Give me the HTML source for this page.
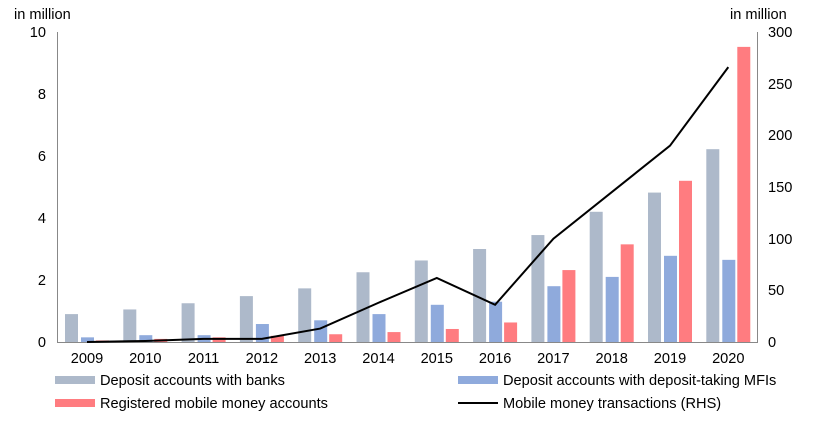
<!DOCTYPE html>
<html><head><style>body{margin:0;background:#fff}svg{display:block}text{font-family:"Liberation Sans",Arial,sans-serif;fill:#000}</style></head><body>
<svg width="821" height="421" viewBox="0 0 821 421" xmlns="http://www.w3.org/2000/svg">
<g font-size="14.6">
<text x="14" y="19">in million</text>
<text x="730" y="19">in million</text>
<g text-anchor="end">
<text x="46" y="347">0</text><text x="46" y="285">2</text><text x="46" y="223">4</text><text x="46" y="161">6</text><text x="46" y="99">8</text><text x="46" y="37">10</text>
</g>
<g text-anchor="start">
<text x="768" y="347">0</text><text x="768" y="295">50</text><text x="768" y="244">100</text><text x="768" y="192">150</text><text x="768" y="140">200</text><text x="768" y="89">250</text><text x="768" y="37">300</text>
</g>
</g>
<g id="bars"></g>
<line x1="57.5" y1="32" x2="57.5" y2="342" stroke="#888" stroke-width="1"/>
<line x1="757.5" y1="32" x2="757.5" y2="342" stroke="#888" stroke-width="1"/>
<line x1="57" y1="342.5" x2="758" y2="342.5" stroke="#888" stroke-width="1"/>
<g id="line"></g>
<g id="xl" font-size="14.6" text-anchor="middle"></g>
<g font-size="14.6">
<rect x="55" y="376" width="40" height="8" fill="#adb9ca"/><text x="100" y="385">Deposit accounts with banks</text>
<rect x="55" y="399" width="40" height="8" fill="#ff7c80"/><text x="100" y="408">Registered mobile money accounts</text>
<rect x="458" y="376" width="40" height="8" fill="#8faadc"/><text x="503" y="385">Deposit accounts with deposit-taking MFIs</text>
<line x1="458" y1="403" x2="498" y2="403" stroke="#000" stroke-width="2"/><text x="503" y="408">Mobile money transactions (RHS)</text>
</g>
<script>
var g=[0.9,1.05,1.25,1.48,1.73,2.25,2.63,3.0,3.45,4.2,4.82,6.22],
b=[0.15,0.22,0.22,0.58,0.7,0.9,1.2,1.3,1.8,2.1,2.78,2.65],
r=[0.05,0.1,0.15,0.2,0.25,0.32,0.42,0.63,2.32,3.15,5.2,9.52],
l=[0,1,3,3,13,38,62,36,100,145,190,266];
var ns="http://www.w3.org/2000/svg",B=document.getElementById("bars"),X=document.getElementById("xl"),pts=[];
function rc(x,v,c){var h=v*31,e=document.createElementNS(ns,"rect");e.setAttribute("x",x);e.setAttribute("y",342-h);e.setAttribute("width",13);e.setAttribute("height",h);e.setAttribute("fill",c);B.appendChild(e);}
for(var i=0;i<12;i++){var c=87+i*58.3;rc(c-22,g[i],"#adb9ca");rc(c-6,b[i],"#8faadc");rc(c+9,r[i],"#ff7c80");
var t=document.createElementNS(ns,"text");t.setAttribute("x",c);t.setAttribute("y",363);t.textContent=2009+i;X.appendChild(t);
pts.push(c+","+(342-l[i]*310/300));}
var p=document.createElementNS(ns,"polyline");p.setAttribute("points",pts.join(" "));p.setAttribute("fill","none");p.setAttribute("stroke","#000");p.setAttribute("stroke-width","2");document.getElementById("line").appendChild(p);
</script>
</svg>
</body></html>
